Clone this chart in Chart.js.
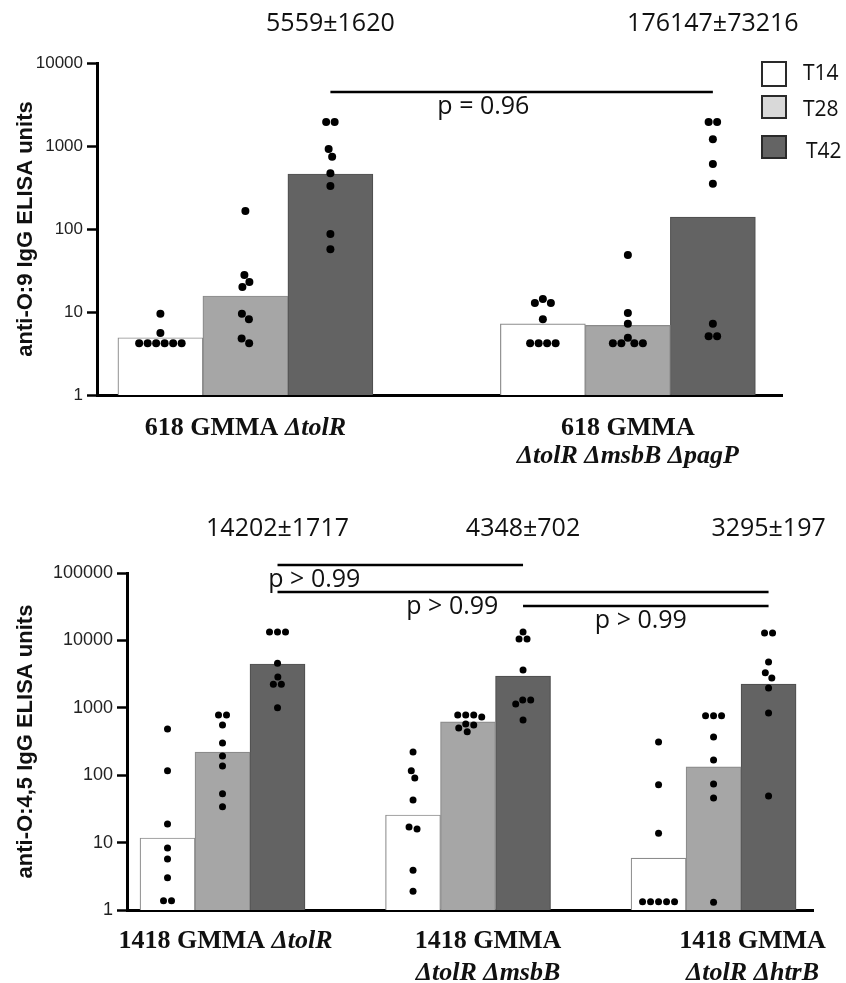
<!DOCTYPE html>
<html>
<head>
<meta charset="utf-8">
<script src="https://cdn.jsdelivr.net/npm/chart.js@4.4.0/dist/chart.umd.min.js"></script>
<style>
  html, body { margin: 0; padding: 0; background: #fff; }
  #wrap { position: relative; width: 846px; height: 983px; overflow: hidden; }
  canvas { position: absolute; left: 0; }
</style>
</head>
<body>
<div id="wrap">
  <canvas id="panelA" width="846" height="490" style="top:0"></canvas>
  <canvas id="panelB" width="846" height="493" style="top:490px"></canvas>
</div>
<script>
// series (time points)
const SERIES = ['T14', 'T28', 'T42'];

// ---- panel A : anti-O:9 IgG ----
// *...* marks italic parts of a label line
const catsA = [['618 GMMA *ΔtolR*'], ['618 GMMA', '*ΔtolR ΔmsbB ΔpagP*']];
const totalsA = ['5559±1620', '176147±73216'];
const compA = [[0, 1, 'p = 0.96']];
const ticksA = [1, 10, 100, 1000, 10000];
const meanA_T14 = [4.9, 7.2];
const meanA_T28 = [15.6, 6.9];
const meanA_T42 = [460, 139];
const dotsA_T14 = [[9.5, 5.6, 4.2, 4.2, 4.2, 4.2, 4.2, 4.2], [14.3, 12.8, 12.8, 8.2, 4.2, 4.2, 4.2, 4.2]];
const dotsA_T28 = [[165, 28, 23, 20, 9.5, 8.2, 4.8, 4.2], [48.6, 9.7, 7.2, 4.9, 4.2, 4.2, 4.2, 4.2]];
const dotsA_T42 = [[1950, 1950, 920, 740, 470, 330, 87, 57], [1950, 1950, 1210, 605, 350, 7.2, 5.1, 5.1]];

// ---- panel B : anti-O:4,5 IgG ----
const catsB = [['1418 GMMA *ΔtolR*'], ['1418 GMMA', '*ΔtolR ΔmsbB*'], ['1418 GMMA', '*ΔtolR ΔhtrB*']];
const totalsB = ['14202±1717', '4348±702', '3295±197'];
const compB = [[0, 1, 'p > 0.99'], [0, 2, 'p > 0.99'], [1, 2, 'p > 0.99']];
const ticksB = [1, 10, 100, 1000, 10000, 100000];
const meanB_T14 = [11.7, 25.7, 5.9];
const meanB_T28 = [220, 617, 133];
const meanB_T42 = [4470, 2960, 2240];
const dotsB_T14 = [[485, 116, 18.9, 8.3, 5.7, 3.0, 1.37, 1.37], [220, 116, 91, 43, 17, 15.9, 3.9, 1.9], [310, 72, 13.8, 1.32, 1.32, 1.32, 1.32, 1.32]];
const dotsB_T28 = [[780, 780, 556, 300, 193, 137, 53, 34], [780, 780, 780, 730, 575, 556, 500, 440], [760, 760, 760, 370, 168, 74, 46, 1.3]];
const dotsB_T42 = [[13300, 13300, 13300, 4600, 2860, 2240, 2240, 1000], [13300, 10500, 10500, 3640, 1300, 1300, 1140, 660], [12900, 12900, 4800, 3300, 2770, 1970, 840, 49]];

const FILL = ['#ffffff', '#a6a6a6', '#636363'];
const EDGE = ['#8c8c8c', '#8a8a8a', '#505050'];
const SANS = '"Open Sans", "DejaVu Sans", sans-serif';
const ARIAL = '"Liberation Sans", Arial, sans-serif';
const SERIF = '"Liberation Serif", "Times New Roman", serif';

// simple beeswarm: x offsets (px) so dots of a column don't overlap
function beeswarm(vals, toPx, d) {
  const pts = vals.map(v => ({ y: toPx(v), x: 0 }));
  const placed = [];
  pts.slice().sort((a, b) => a.y - b.y).forEach(p => {
    for (let k = 0; k < 400; k++) {
      const cands = k === 0 ? [0] : [k * 0.5, -k * 0.5];
      const c = cands.find(c => placed.every(q => Math.hypot(q.x - c, q.y - p.y) >= d));
      if (c !== undefined) { p.x = c; break; }
    }
    placed.push(p);
  });
  // centre each touching cluster on the column
  const comp = pts.map(() => -1);
  let n = 0;
  pts.forEach((p, i) => {
    if (comp[i] >= 0) return;
    const stack = [i]; comp[i] = n;
    while (stack.length) {
      const a = stack.pop();
      pts.forEach((q, j) => {
        if (comp[j] < 0 && Math.hypot(pts[a].x - q.x, pts[a].y - q.y) < d * 1.15) { comp[j] = n; stack.push(j); }
      });
    }
    n++;
  });
  for (let g = 0; g < n; g++) {
    const mem = pts.filter((p, i) => comp[i] === g);
    const m = mem.reduce((s, p) => s + p.x, 0) / mem.length;
    mem.forEach(p => p.x -= m);
  }
  return pts.map(p => p.x);
}

function drawRich(ctx, line, cx, y, size) {
  const segs = line.split('*').map((t, i) => ({ t, it: i % 2 === 1 })).filter(s => s.t);
  const font = s => (s.it ? 'italic ' : '') + 'bold ' + size + 'px ' + SERIF;
  let w = 0;
  segs.forEach(s => { ctx.font = font(s); s.w = ctx.measureText(s.t).width; w += s.w; });
  let xx = cx - w / 2;
  ctx.textAlign = 'left';
  segs.forEach(s => { ctx.font = font(s); ctx.fillText(s.t, xx, y); xx += s.w; });
}

const decor = {
  id: 'decor',
  afterDraw(chart, args, o) {
    const ctx = chart.ctx, x = chart.scales.x;
    ctx.save();
    ctx.fillStyle = '#111';
    ctx.textBaseline = 'alphabetic';
    o.categories.forEach((lines, i) => {
      const cx = x.getPixelForValue(i) + o.labelShift[i];
      lines.forEach((line, j) => drawRich(ctx, line, cx, o.labelBase[j], 26));
    });
    ctx.font = '25px ' + SANS;
    ctx.textAlign = 'center';
    o.totals.forEach((t, i) => ctx.fillText(t, x.getPixelForValue(i + o.barUnits), o.totalBase));
    o.comparisons.forEach((c, k) => {
      const b = o.brackets[k];
      const x1 = x.getPixelForValue(c[0] + o.barUnits), x2 = x.getPixelForValue(c[1] + o.barUnits);
      ctx.beginPath();
      ctx.moveTo(x1, b.y); ctx.lineTo(x2, b.y);
      ctx.lineWidth = 2.5; ctx.strokeStyle = '#000';
      ctx.stroke();
      ctx.fillText(c[2], x1 + b.f * (x2 - x1), b.base);
    });
    if (o.legend) {
      const L = o.legend;
      SERIES.forEach((s, k) => {
        ctx.fillStyle = L.fill[k];
        ctx.fillRect(L.x, L.y[k], L.w, L.h[k]);
        ctx.strokeStyle = '#2a2a2a'; ctx.lineWidth = 2;
        ctx.strokeRect(L.x, L.y[k], L.w, L.h[k]);
        ctx.fillStyle = '#111';
        ctx.font = '21px ' + SANS;
        ctx.textAlign = 'left';
        ctx.fillText(s, L.tx[k], L.tb[k]);
      });
    }
    ctx.restore();
  }
};

function panel(id, P) {
  const pxPerUnit = (P.right - P.left) / (P.xMax - P.xMin);
  const decade = (P.bottom - P.top) / Math.log10(P.yMax);
  const barUnits = P.bar / pxPerUnit;
  const datasets = [];
  P.dots.forEach((groups, k) => {
    const pts = [];
    groups.forEach((vals, i) => {
      const off = beeswarm(vals, v => -Math.log10(v) * decade, P.gap);
      vals.forEach((v, j) => pts.push({ x: i + (k - 1) * barUnits + off[j] / pxPerUnit, y: v }));
    });
    datasets.push({ type: 'scatter', label: SERIES[k] + ' dots', data: pts, pointRadius: P.dot,
      pointBackgroundColor: '#000', pointBorderWidth: 0, order: 0 });
  });
  P.means.forEach((m, k) => {
    datasets.push({ type: 'bar', label: SERIES[k], data: m.map((v, i) => ({ x: i, y: v })),
      backgroundColor: FILL[k], borderColor: EDGE[k], borderWidth: 1.2, barThickness: P.bar, order: 1 });
  });
  return new Chart(document.getElementById(id), {
    type: 'bar',
    data: { datasets },
    plugins: [decor],
    options: {
      responsive: false,
      animation: false,
      layout: { padding: { top: P.top, right: 846 - P.right, left: 0, bottom: 0 } },
      plugins: {
        legend: { display: false },
        tooltip: { enabled: false },
        decor: {
          categories: P.cats, labelShift: P.labelShift, labelBase: P.labelBase,
          totals: P.totals, totalBase: P.totalBase, barUnits,
          comparisons: P.comp, brackets: P.brackets, legend: P.legend
        }
      },
      scales: {
        x: {
          type: 'linear', min: P.xMin, max: P.xMax, offset: false,
          ticks: { display: false }, grid: { display: false },
          border: { display: true, color: '#000', width: 3 },
          afterFit: s => { s.height = P.h - P.bottom; }
        },
        y: {
          type: 'logarithmic', min: 1, max: P.yMax,
          afterBuildTicks: s => { s.ticks = P.ticks.map(v => ({ value: v })); },
          afterFit: s => { s.width = P.left; },
          ticks: { callback: v => String(v), autoSkip: false, padding: 4, color: '#222',
            font: { family: ARIAL, size: P.tickSize } },
          grid: { display: true, drawOnChartArea: false, drawTicks: true, tickLength: 10,
            tickWidth: 2.5, tickColor: '#000' },
          border: { display: true, color: '#000', width: 3 },
          title: { display: true, text: P.yTitle, color: '#111', padding: { top: 13, bottom: 0 },
            font: { family: ARIAL, size: 22, weight: 'bold' } }
        }
      }
    }
  });
}

panel('panelA', {
  h: 490, top: 63, bottom: 395, left: 97, right: 782, xMin: -0.388, xMax: 1.403, yMax: 10000,
  bar: 85, dot: 4, gap: 8.5, tickSize: 17, ticks: ticksA,
  yTitle: 'anti-O:9 IgG ELISA units',
  means: [meanA_T14, meanA_T28, meanA_T42], dots: [dotsA_T14, dotsA_T28, dotsA_T42],
  cats: catsA, labelShift: [0, 0], labelBase: [435, 463],
  totals: totalsA, totalBase: 31, comp: compA,
  brackets: [{ y: 92, base: 114, f: 0.40 }],
  legend: { x: 762, w: 24, y: [62, 96, 136], h: [24, 22, 22], fill: ['#ffffff', '#d9d9d9', '#646464'],
    tx: [803, 803, 806], tb: [80, 116, 158] }
});

panel('panelB', {
  h: 493, top: 83, bottom: 420, left: 127, right: 813, xMin: -0.389, xMax: 2.405, yMax: 100000,
  bar: 55, dot: 3.5, gap: 7.9, tickSize: 18, ticks: ticksB,
  yTitle: 'anti-O:4,5 IgG ELISA units',
  means: [meanB_T14, meanB_T28, meanB_T42], dots: [dotsB_T14, dotsB_T28, dotsB_T42],
  cats: catsB, labelShift: [3, 20, 39], labelBase: [458, 490],
  totals: totalsB, totalBase: 46, comp: compB,
  brackets: [{ y: 75, base: 97, f: 0.15 }, { y: 102, base: 124, f: 0.356 }, { y: 116, base: 138, f: 0.48 }],
  legend: null
});
</script>
</body>
</html>
